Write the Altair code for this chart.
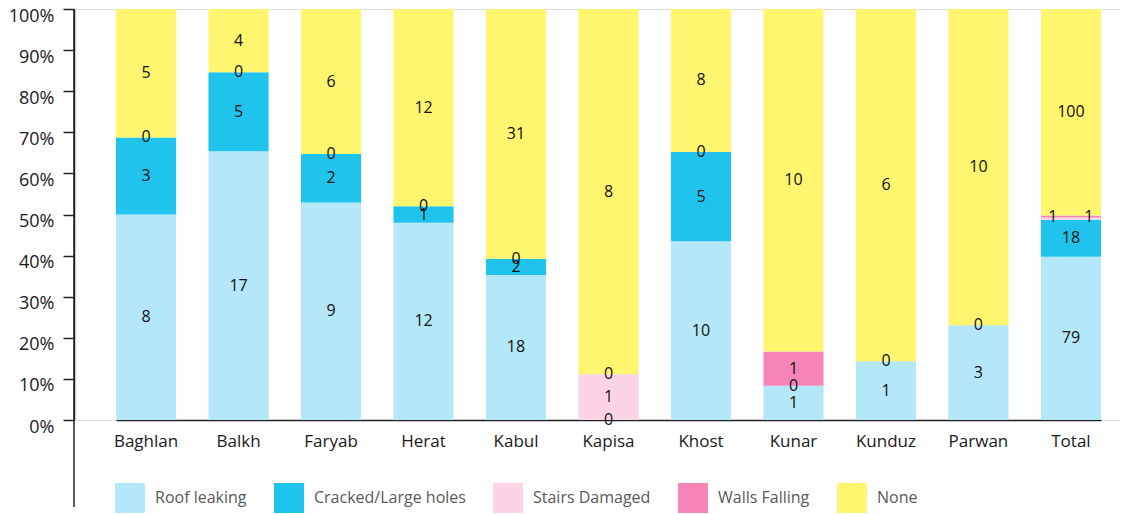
import altair as alt
import pandas as pd

categories = ["Baghlan", "Balkh", "Faryab", "Herat", "Kabul", "Kapisa",
              "Khost", "Kunar", "Kunduz", "Parwan", "Total"]
series = ["Roof leaking", "Cracked/Large holes", "Stairs Damaged", "Walls Falling", "None"]
colors = ["#B4E7F8", "#1FC3EB", "#FDD3E6", "#F585B6", "#FFF56E"]

roof_leaking = [8, 17, 9, 12, 18, 0, 10, 1, 1, 3, 79]
cracked = [3, 5, 2, 1, 2, 0, 5, 0, 0, 0, 18]
stairs = [0, 0, 0, 0, 0, 1, 0, 0, 0, 0, 1]
walls = [0, 0, 0, 0, 0, 0, 0, 1, 0, 0, 1]
none_vals = [5, 4, 6, 12, 31, 8, 8, 10, 6, 10, 100]

values = [roof_leaking, cracked, stairs, walls, none_vals]
rows = []
for si, (s, vals) in enumerate(zip(series, values)):
    for c, v in zip(categories, vals):
        rows.append({"category": c, "series": s, "idx": si, "value": v})
df = pd.DataFrame(rows)

FONT = "Open Sans"

base = alt.Chart(df).transform_joinaggregate(
    total="sum(value)", groupby=["category"]
).transform_window(
    cum="sum(value)", sort=[alt.SortField("idx")], groupby=["category"],
    frame=[None, 0]
).transform_calculate(
    y0="(datum.cum - datum.value) / datum.total",
    y1="datum.cum / datum.total",
    mid="(datum.cum - datum.value / 2) / datum.total",
)

xenc = alt.X(
    "category:N", sort=categories, title=None,
    scale=alt.Scale(range=[42, 1027], paddingInner=0.35, paddingOuter=0),
    axis=alt.Axis(labelAngle=0, labelFont=FONT, labelFontSize=17, labelColor="#1a1a1a",
                  ticks=False, domainColor="#222", domainWidth=1.5, labelPadding=13),
)

bars = base.mark_bar().encode(
    x=xenc,
    y=alt.Y("y0:Q", title=None,
            scale=alt.Scale(domain=[0, 1], nice=False),
            axis=alt.Axis(format="%", values=[i / 10 for i in range(11)],
                          labelFont=FONT, labelFontSize=18, labelColor="#1a1a1a",
                          labelOffset=7,
                          tickSize=11, tickColor="#222", domainColor="#222",
                          domainWidth=1.5, tickWidth=1.5, grid=False, labelPadding=9)),
    y2="y1:Q",
    color=alt.Color("series:N", sort=series,
                    scale=alt.Scale(domain=series, range=colors),
                    legend=alt.Legend(title=None, orient="none", direction="horizontal",
                                      columns=5, legendX=41, legendY=474,
                                      symbolType="square", symbolSize=900,
                                      symbolStrokeWidth=0, symbolOpacity=1,
                                      labelFont=FONT, labelFontSize=16,
                                      labelColor="#595959", labelOffset=10,
                                      columnPadding=27, labelLimit=300)),
)

special = (alt.datum.category == "Total") & (
    (alt.datum.series == "Stairs Damaged") | (alt.datum.series == "Walls Falling"))

# one label per position (coinciding zero labels drawn once)
labels = base.transform_filter(~special).transform_window(
    rank="row_number()", groupby=["category", "mid"], sort=[alt.SortField("idx")]
).transform_filter(alt.datum.rank == 1).mark_text(
    font=FONT, fontSize=16, color="#111", baseline="middle"
).encode(x=alt.X("category:N", sort=categories), y="mid:Q", text="value:Q")

lab_stairs = base.transform_filter(
    (alt.datum.category == "Total") & (alt.datum.series == "Stairs Damaged")
).mark_text(font=FONT, fontSize=16, color="#111", baseline="middle", dx=-18, dy=-2).encode(
    x=alt.X("category:N", sort=categories), y="mid:Q", text="value:Q")

lab_walls = base.transform_filter(
    (alt.datum.category == "Total") & (alt.datum.series == "Walls Falling")
).mark_text(font=FONT, fontSize=16, color="#111", baseline="middle", dx=18).encode(
    x=alt.X("category:N", sort=categories), y="mid:Q", text="value:Q")

vline = alt.Chart(pd.DataFrame({"a": [0]})).mark_rule(color="#222", strokeWidth=1.5).encode(
    x=alt.value(0), y=alt.value(0), y2=alt.value(498))

chart = alt.layer(bars, labels, lab_stairs, lab_walls, vline).properties(
    width=1046, height=411
).configure_view(stroke=None).configure(padding={"left": 0, "top": -1, "right": 0, "bottom": 0})

chart.save("out.html", embed_options={"renderer": "svg", "actions": False})
